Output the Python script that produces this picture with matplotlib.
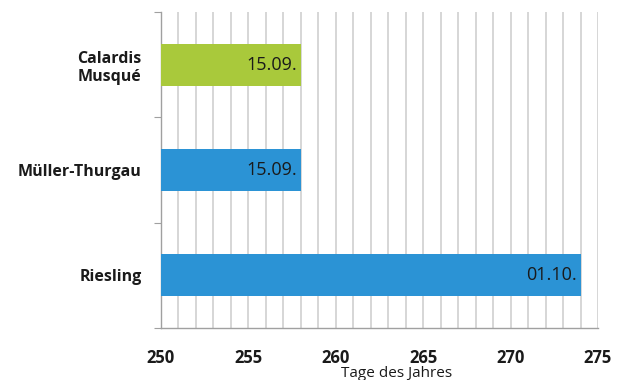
import numpy as np
import matplotlib.pyplot as plt

# Beginn der Lese (Tag des Jahres) je Rebsorte
sorten = ['Riesling', 'Müller-Thurgau', 'Calardis\nMusqué']
tag = [274, 258, 258]
datum = ['01.10.', '15.09.', '15.09.']
farben = ['#2b93d5', '#2b93d5', '#a9c93b']

x_ticks = [250, 255, 260, 265, 270, 275]

fig = plt.figure(figsize=(6.26, 3.8), dpi=100)
ax = fig.add_axes([161 / 626, 52 / 380, 437 / 626, 316 / 380])

y = np.arange(len(sorten))
start = 250
ax.barh(y, np.array(tag) - start, left=start, height=0.4, color=farben, zorder=3)

for yi, t, d in zip(y, tag, datum):
    ax.text(t - 0.2, yi, d, ha='right', va='center', fontsize=13,
            family='Open Sans', color='#1a1a1a', zorder=4)

ax.set_xlim(250, 275)
ax.set_ylim(-0.5, 2.5)

# feines Raster: jede Tageslinie
ax.set_xticks(np.arange(250, 276, 1), minor=True)
ax.grid(axis='x', which='both', color='#cccccc', linewidth=1.1, zorder=0)
ax.set_xticks(x_ticks)
ax.set_xticklabels([str(v) for v in x_ticks], fontsize=12, fontweight='bold', family='Open Sans')
ax.tick_params(axis='x', which='both', length=0, pad=15, colors='#1a1a1a')

# Kategorien: Striche an den Grenzen, Beschriftung in der Mitte
ax.set_yticks([-0.5, 0.5, 1.5, 2.5])
ax.set_yticklabels([])
ax.tick_params(axis='y', which='major', length=5, color='#a0a0a0')
ax.set_yticks(y, minor=True)
ax.set_yticklabels(sorten, minor=True, fontsize=11.5, fontweight='bold', family='Open Sans',
                   linespacing=1.2)
ax.tick_params(axis='y', which='minor', length=0, pad=14, colors='#1a1a1a')
for lab in ax.get_yticklabels(minor=True):
    lab.set_horizontalalignment('right')

for side in ['top', 'right']:
    ax.spines[side].set_visible(False)
for side in ['left', 'bottom']:
    ax.spines[side].set_color('#a0a0a0')
    ax.spines[side].set_linewidth(1.0)

fig.text(397 / 626, 3 / 380, 'Tage des Jahres', ha='center', va='baseline', fontsize=11,
         family='Open Sans', color='#1a1a1a')

fig.savefig('out.png', dpi=100)
